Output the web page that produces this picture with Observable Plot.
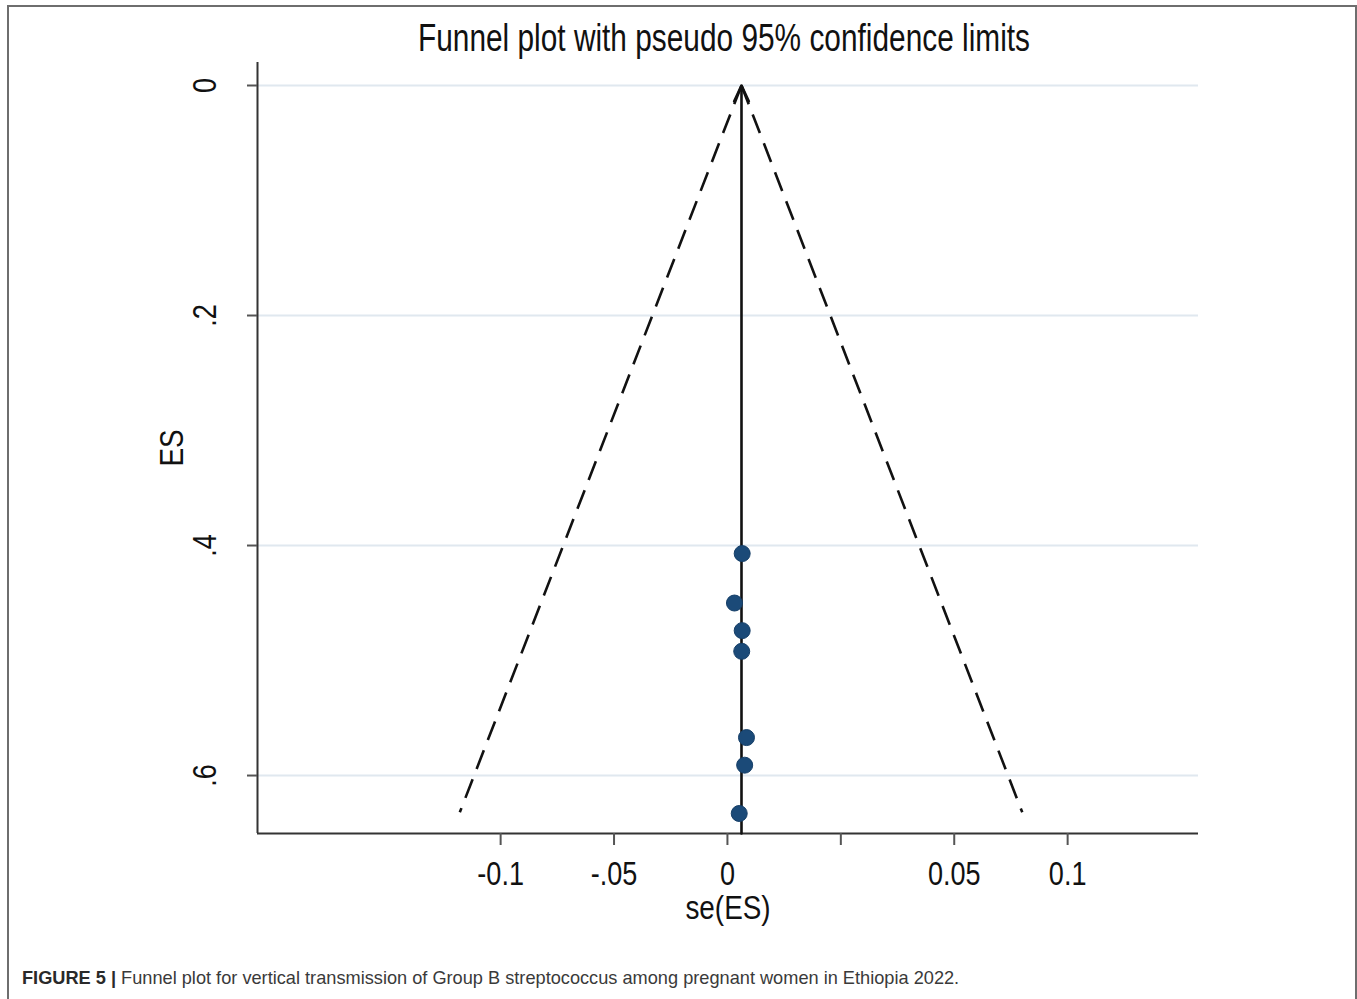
<!DOCTYPE html>
<html><head><meta charset="utf-8">
<script src="https://cdn.jsdelivr.net/npm/d3@7"></script>
<script src="https://cdn.jsdelivr.net/npm/@observablehq/plot@0.6"></script>
<style>
body{margin:0;background:#fff;}
#wrap{position:relative;width:1357px;height:999px;overflow:hidden;background:#fff;}
#border{position:absolute;left:7px;top:5px;width:1346px;height:1010px;border:2px solid #6e6e6e;border-bottom:none;}
#title{position:absolute;left:0;width:1448px;top:16px;text-align:center;font-family:"Liberation Sans",Arial,sans-serif;font-size:39px;line-height:44px;color:#111;}
#title span{display:inline-block;transform-origin:50% 50%;white-space:nowrap;}
#chart{position:absolute;left:0;top:0;}
#caption{position:absolute;left:22px;top:967px;font-family:"Liberation Sans",Arial,Helvetica,sans-serif;font-size:18.2px;line-height:22px;color:#3a3a3a;white-space:nowrap;}
#caption b{color:#2a2a2a;}
</style>
</head><body>
<div id="wrap">
  <div id="border"></div>
  <div id="title"><span>Funnel plot with pseudo 95% confidence limits</span></div>
  <div id="chart"></div>
  <div id="caption"><b>FIGURE 5 |</b> Funnel plot for vertical transmission of Group B streptococcus among pregnant women in Ethiopia 2022.</div>
</div>
<script>
// Study estimates
const studySE = [0.0065, 0.0031, 0.0065, 0.0063, 0.0084, 0.0076, 0.0052];
const studyES = [0.407, 0.450, 0.474, 0.492, 0.567, 0.591, 0.633];

// Pooled line and pseudo 95% limits
const pooledSE = 0.0062;
const funnelTopES = 0;
const funnelBottomES = 0.632;
const funnelLeftSE = -0.118;
const funnelRightSE = 0.130;

// Axes
const xTicks = [-0.1, -0.05, 0, 0.05, 0.1, 0.15];
const xTickLabels = ["-0.1", "-.05", "0", "", "0.05", "0.1"];
const yTicks = [0, 0.2, 0.4, 0.6];
const yTickLabels = ["0", ".2", ".4", ".6"];
const xDomain = [-0.2072, 0.2077];
const yDomain = [-0.02, 0.6504];

const points = studySE.map((se, i) => ({se, es: studyES[i]}));
const limits = [
  {x1: pooledSE, y1: funnelTopES, x2: funnelLeftSE, y2: funnelBottomES},
  {x1: pooledSE, y1: funnelTopES, x2: funnelRightSE, y2: funnelBottomES}
];
const pooled = [{x1: pooledSE, y1: yDomain[1], x2: pooledSE, y2: funnelTopES}];

const font = '"Liberation Sans",Arial,Helvetica,sans-serif';
const narrowScale = 0.82;

const plot = Plot.plot({
  width: 1357,
  height: 940,
  marginLeft: 257,
  marginRight: 159,
  marginTop: 62,
  marginBottom: 107,
  style: {fontFamily: font, background: "transparent", color: "#111"},
  x: {domain: xDomain, type: "linear"},
  y: {domain: yDomain, reverse: true},
  marks: [
    Plot.gridY(yTicks, {stroke: "#e0e8ef", strokeOpacity: 1, strokeWidth: 2}),
    Plot.ruleX([xDomain[0]], {stroke: "#333", strokeWidth: 2}),
    Plot.ruleY([yDomain[1]], {stroke: "#333", strokeWidth: 2}),
    Plot.axisX({ticks: xTicks, tickSize: 12, tickPadding: 16, stroke: "#555", strokeWidth: 2,
      tickFormat: d => xTickLabels[xTicks.findIndex(t => Math.abs(t - d) < 1e-9)],
      fontSize: 33, fill: "#111", label: null}),
    Plot.axisY({ticks: yTicks, tickSize: 10, stroke: "#555", strokeWidth: 2, tickFormat: () => "", label: null}),
    Plot.text(yTicks, {frameAnchor: "left", y: d => d, text: (d, i) => yTickLabels[i], rotate: -90, dx: -52,
      textAnchor: "middle", lineAnchor: "middle", fontSize: 33, fill: "#111"}),
    Plot.text(["se(ES)"], {frameAnchor: "bottom", dy: 75, textAnchor: "middle", lineAnchor: "middle", fontSize: 34, fill: "#111"}),
    Plot.text(["ES"], {frameAnchor: "left", dx: -85, rotate: -90, textAnchor: "middle", lineAnchor: "middle", fontSize: 34, fill: "#111"}),
    Plot.link(limits, {x1: "x1", y1: "y1", x2: "x2", y2: "y2", stroke: "#111", strokeWidth: 2.6, strokeDasharray: "20,11"}),
    Plot.arrow(pooled, {x1: "x1", y1: "y1", x2: "x2", y2: "y2", stroke: "#111", strokeWidth: 2.6, headLength: 10, headAngle: 50}),
    Plot.dot(points, {x: "se", y: "es", r: 8, fill: "#1b4a78", stroke: "#163f68", strokeWidth: 1})
  ]
});
// condense text (Arial Narrow look)
plot.querySelectorAll("text").forEach(t => {
  const tr = t.getAttribute("transform") || "";
  t.setAttribute("transform", tr + ` scale(${narrowScale},1)`);
});
document.getElementById("chart").appendChild(plot);
const span = document.querySelector("#title span");
span.style.transform = `scaleX(${612 / span.offsetWidth})`;
</script>
</body></html>
